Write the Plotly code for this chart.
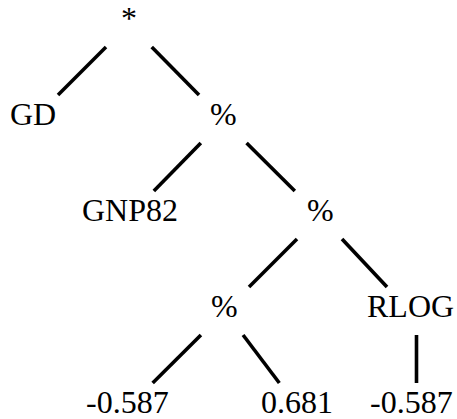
import plotly.graph_objects as go

# Tree nodes: label, horizontal position (px), level (0 = root)
node_labels = ["*", "GD", "%", "GNP82", "%", "%", "RLOG", "-0.587", "0.681", "-0.587"]
node_x = [129, 33, 223.5, 129.5, 320, 224, 410, 127.5, 296.5, 411]
node_level = [0, 1, 1, 2, 2, 3, 3, 4, 4, 4]
# edges as (parent index, child index)
edges = [(0, 1), (0, 2), (2, 3), (2, 4), (4, 5), (4, 6), (5, 7), (5, 8), (6, 9)]

level_gap = 96
baseline0 = 31
W, H = 457, 419

def baseline(i):
    return baseline0 + level_gap * node_level[i]

ex, ey = [], []
for p, c in edges:
    bp, bc = baseline(p), baseline(c)
    y0, y1 = bp + 16, bc - 32
    f0 = (y0 - bp) / (bc - bp)
    f1 = (y1 - bp) / (bc - bp)
    xp, xc = node_x[p], node_x[c]
    if abs(xp - xc) < 5:
        xp = xc = (xp + xc) / 2 + 6
        spread = 0
    else:
        spread = 7 if xc > xp else -7
    ex += [xp + f0 * (xc - xp) + spread, xp + f1 * (xc - xp) + spread, None]
    ey += [y0, y1, None]

fig = go.Figure()
fig.add_trace(go.Scatter(x=ex, y=ey, mode="lines",
                         line=dict(color="black", width=3.6),
                         hoverinfo="skip", showlegend=False))

for i, lab in enumerate(node_labels):
    fig.add_annotation(x=node_x[i], y=baseline(i) - 13, text=lab,
                       showarrow=False, xanchor="center", yanchor="middle",
                       font=dict(family="Liberation Serif", size=32, color="black"))

fig.update_layout(width=W, height=H, margin=dict(l=0, r=0, t=0, b=0),
                  paper_bgcolor="white", plot_bgcolor="white",
                  xaxis=dict(range=[0, W], visible=False, fixedrange=True),
                  yaxis=dict(range=[H, 0], visible=False, fixedrange=True),
                  showlegend=False)
fig.write_html("out.html", config={"displayModeBar": False},
               post_script="document.body.style.margin='0';")
